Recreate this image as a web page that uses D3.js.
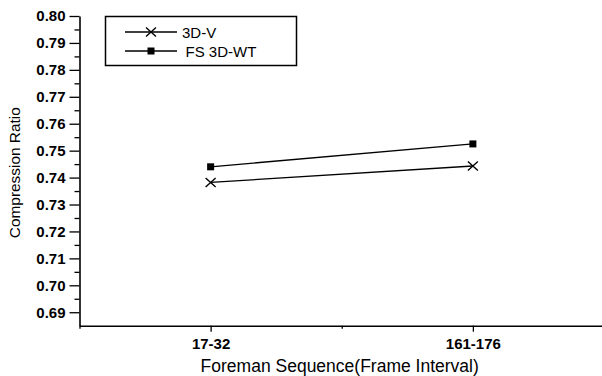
<!DOCTYPE html>
<html>
<head>
<meta charset="utf-8">
<script src="https://cdn.jsdelivr.net/npm/d3@7"></script>
<style>
  html, body { margin: 0; padding: 0; background: #fff; }
  svg { display: block; font-family: "Liberation Sans", Arial, sans-serif; }
</style>
</head>
<body>
<div id="chart"></div>
<script>
// data
const categories = ['17-32', '161-176'];
const seriesNames = ['3D-V', 'FS 3D-WT'];
const series3DV = [0.7382, 0.7443];
const seriesFSWT = [0.7440, 0.7525];
const yTicks = [0.69, 0.70, 0.71, 0.72, 0.73, 0.74, 0.75, 0.76, 0.77, 0.78, 0.79, 0.80];
const yMinorTicks = [0.695, 0.705, 0.715, 0.725, 0.735, 0.745, 0.755, 0.765, 0.775, 0.785, 0.795];
const xMinorTicks = [0.5, 1.5, 2.5];

const width = 602;
const height = 376;

const svg = d3.select('#chart').append('svg')
  .attr('width', width)
  .attr('height', height);

// categories sit at 1, 2 on a linear scale running 0.5 .. 2.5
const x = d3.scaleLinear().domain([0.5, 2.5]).range([79.5, 604]);
const y = d3.scaleLinear().domain([0.685, 0.80]).range([325.7, 16]);

// y axis
svg.append('g')
  .attr('transform', 'translate(79.5,0)')
  .call(d3.axisLeft(y)
    .tickValues(yTicks)
    .tickFormat(d3.format('.2f'))
    .tickSize(10)
    .tickPadding(4)
    .tickSizeOuter(0));
svg.append('g')
  .attr('transform', 'translate(79.5,0)')
  .call(d3.axisLeft(y).tickValues(yMinorTicks).tickFormat('').tickSize(5).tickSizeOuter(0))
  .select('.domain').remove();

// x axis
svg.append('g')
  .attr('transform', `translate(0,${y(0.685)})`)
  .call(d3.axisBottom(x)
    .tickValues(categories.map((c, i) => i + 1))
    .tickFormat((d, i) => categories[i])
    .tickSize(6)
    .tickPadding(7)
    .tickSizeOuter(0));
svg.append('g')
  .attr('transform', `translate(0,${y(0.685)})`)
  .call(d3.axisBottom(x).tickValues(xMinorTicks).tickFormat('').tickSize(3).tickSizeOuter(0))
  .select('.domain').remove();

svg.selectAll('.domain').attr('stroke', '#000').attr('stroke-width', 1.6);
svg.selectAll('.tick line').attr('stroke', '#000').attr('stroke-width', 1.3);
svg.selectAll('.tick text')
  .attr('fill', '#000')
  .attr('font-size', null)
  .style('font-size', '15px')
  .style('font-weight', 'bold')
  .style('font-family', '"Liberation Sans", Arial, sans-serif');

// axis titles
svg.append('text')
  .attr('transform', 'translate(19.5,172.7) rotate(-90)')
  .attr('text-anchor', 'middle')
  .style('font-size', '15.4px')
  .text('Compression Ratio');

svg.append('text')
  .attr('x', (196.7 + 482.7) / 2)
  .attr('y', 371.5)
  .attr('text-anchor', 'middle')
  .style('font-size', '17.5px')
  .text('Foreman Sequence(Frame Interval)');

// lines
const line = d3.line()
  .x((d, i) => x(i + 1))
  .y(d => y(d));

const allSeries = [series3DV, seriesFSWT];
svg.append('g').selectAll('path')
  .data(allSeries)
  .join('path')
  .attr('d', line)
  .attr('fill', 'none')
  .attr('stroke', '#000')
  .attr('stroke-width', 1.3);

// markers
const crossPath = 'M-5,-4.5L5,4.5M-5,4.5L5,-4.5';
function drawCross(g, cx, cy) {
  g.append('path')
    .attr('transform', `translate(${cx},${cy})`)
    .attr('d', crossPath)
    .attr('stroke', '#000')
    .attr('stroke-width', 1.4)
    .attr('fill', 'none');
}
function drawSquare(g, cx, cy) {
  g.append('rect')
    .attr('x', cx - 3.5)
    .attr('y', cy - 3.5)
    .attr('width', 7)
    .attr('height', 7)
    .attr('fill', '#000');
}

const marks = svg.append('g');
series3DV.forEach((v, i) => drawCross(marks, x(i + 1), y(v)));
seriesFSWT.forEach((v, i) => drawSquare(marks, x(i + 1), y(v)));

// legend
const legend = svg.append('g');
legend.append('rect')
  .attr('x', 105.5)
  .attr('y', 16.5)
  .attr('width', 191)
  .attr('height', 49)
  .attr('fill', '#fff')
  .attr('stroke', '#000')
  .attr('stroke-width', 1.5);

const legendRows = [32, 51];
const legendDraw = [drawCross, drawSquare];
seriesNames.forEach((name, i) => {
  const ly = legendRows[i];
  legend.append('line')
    .attr('x1', 125).attr('x2', 177)
    .attr('y1', ly).attr('y2', ly)
    .attr('stroke', '#000')
    .attr('stroke-width', 1.3);
  legendDraw[i](legend, 151, ly);
  legend.append('text')
    .attr('x', i === 0 ? 182 : 185.5)
    .attr('y', ly + 5.5)
    .style('font-size', '15px')
    .text(name);
});
</script>
</body>
</html>
